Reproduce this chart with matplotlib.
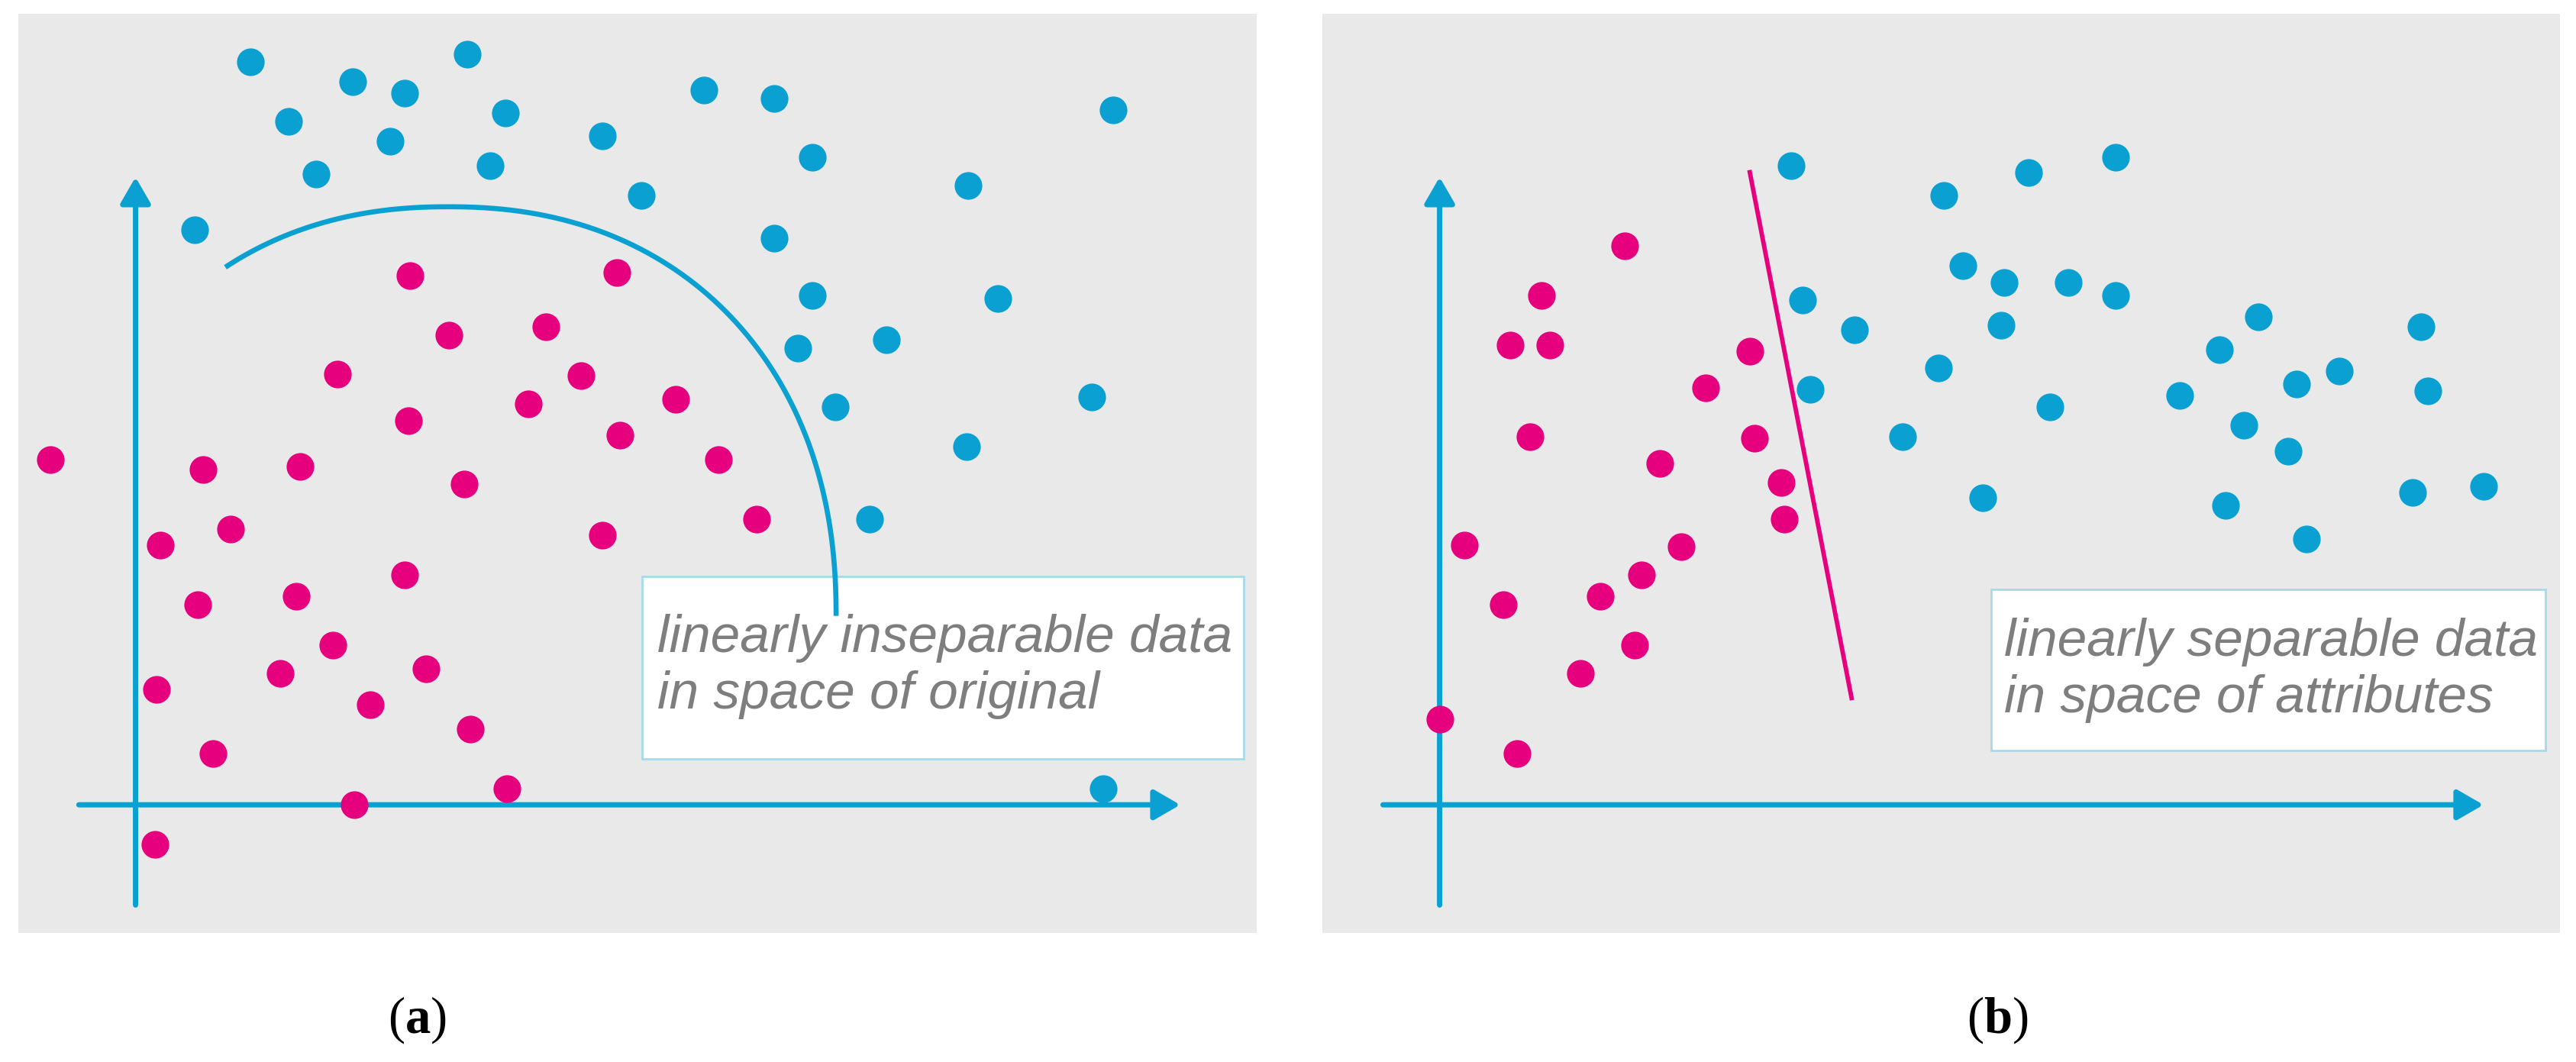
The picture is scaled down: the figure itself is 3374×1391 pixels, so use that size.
import matplotlib.pyplot as plt
import numpy as np
from matplotlib.patches import FancyArrowPatch, Rectangle

# ---- data (units: arbitrary, origin = where the drawn axes cross) ----
# panel (a): linearly inseparable
a_cyan_x = [7.0, 9.3, 13.2, 16.4, 15.5, 11.0, 20.2, 22.5, 21.6, 3.6, 28.4, 30.8, 34.6, 38.9,
            41.2, 38.9, 41.2, 40.3, 45.7, 42.6, 50.7, 52.5, 50.6, 44.7, 58.2, 59.5, 58.9]
a_cyan_y = [45.2, 41.6, 44.0, 43.3, 40.4, 38.4, 45.7, 42.1, 38.9, 35.0, 40.7, 37.1, 43.5, 43.0,
            39.4, 34.5, 31.0, 27.8, 28.3, 24.2, 37.7, 30.8, 21.8, 17.4, 24.8, 42.3, 1.0]
a_pink_x = [-5.2, 4.1, 10.0, 1.5, 5.8, 3.8, 9.8, 16.4, 1.3, 8.8, 12.0, 17.7, 14.3, 20.4, 4.7, 13.3,
            22.6, 1.2, 16.7, 29.3, 19.1, 25.0, 12.3, 27.1, 16.6, 23.9, 32.9, 29.5, 35.5, 20.0, 28.4, 37.8]
a_pink_y = [21.0, 20.4, 20.6, 15.8, 16.8, 12.2, 12.7, 14.0, 7.0, 8.0, 9.7, 8.3, 6.1, 4.6, 3.1, 0.0,
            1.0, -2.4, 32.2, 32.4, 28.6, 29.1, 26.2, 26.1, 23.4, 24.4, 24.7, 22.5, 21.0, 19.5, 16.4, 17.4]

# panel (b): linearly separable
b_cyan_x = [21.4, 30.7, 35.9, 41.2, 22.1, 25.3, 22.6, 31.9, 34.4, 38.3, 41.2, 34.2, 30.4, 37.2, 28.2,
            33.1, 45.1, 47.5, 49.9, 52.2, 54.8, 49.0, 51.7, 47.9, 52.8, 59.8, 60.2, 59.3, 63.6]
b_cyan_y = [38.9, 37.1, 38.5, 39.4, 30.7, 28.9, 25.3, 32.8, 31.8, 31.8, 31.0, 29.2, 26.6, 24.2, 22.4,
            18.7, 24.9, 27.7, 29.7, 25.6, 26.4, 23.1, 21.5, 18.2, 16.2, 29.1, 25.2, 19.0, 19.4]
b_pink_x = [11.3, 6.2, 4.3, 6.7, 5.5, 18.9, 16.2, 19.2, 13.4, 20.8, 21.0, 1.5, 14.7, 12.3, 9.8,
            3.9, 11.9, 8.6, 0.0, 4.7]
b_pink_y = [34.0, 31.0, 28.0, 28.0, 22.4, 27.6, 25.4, 22.3, 20.8, 19.6, 17.4, 15.8, 15.7, 14.0, 12.7,
            12.2, 9.7, 8.0, 5.2, 3.1]

# boundaries
a_curve_center = (19.05, 11.5)
a_curve_radii = (23.6, 24.9)
b_line_x = [18.9, 25.1]
b_line_y = [38.5, 6.5]

texts = ["linearly inseparable data\nin space of original",
         "linearly separable data\nin space of attributes"]
labels = ["a", "b"]

CYAN = '#0AA0D2'
PINK = '#E6007E'
BG = '#E9E9E9'

plt.rcParams['mathtext.fontset'] = 'custom'
plt.rcParams['mathtext.rm'] = 'Liberation Serif'
plt.rcParams['mathtext.bf'] = 'Liberation Serif:bold'

fig = plt.figure(figsize=(33.74, 13.91), dpi=100)
ax_a = fig.add_axes([0.00702, 0.1215, 0.4808, 0.8656])
ax_b = fig.add_axes([0.5133, 0.1215, 0.4804, 0.8656])


def panel(ax, cyan_x, cyan_y, pink_x, pink_y, box, text_xy, text):
    ax.set_facecolor(BG)
    ax.set_xlim(-7.15, 68.25)
    ax.set_ylim(-7.8, 48.15)
    ax.set_xticks([])
    ax.set_yticks([])
    for s in ax.spines.values():
        s.set_visible(False)

    style = '-|>,head_length=0.95,head_width=0.55'
    ax.add_patch(FancyArrowPatch((-3.45, 0), (63.6, 0), arrowstyle=style, mutation_scale=22,
                                 lw=5, color=CYAN, shrinkA=0, shrinkB=0, zorder=2))
    ax.add_patch(FancyArrowPatch((0, -6.1), (0, 38.2), arrowstyle=style, mutation_scale=22,
                                 lw=5, color=CYAN, shrinkA=0, shrinkB=0, zorder=2))

    ax.scatter(cyan_x, cyan_y, s=680, color=CYAN, linewidths=0, zorder=3)
    ax.scatter(pink_x, pink_y, s=680, color=PINK, linewidths=0, zorder=3)

    x0, y0, x1, y1 = box
    ax.add_patch(Rectangle((x0, y0), x1 - x0, y1 - y0, facecolor='white',
                           edgecolor='#A6DAEA', lw=2, zorder=4))
    ax.text(text_xy[0], text_xy[1], text, fontsize=50, style='italic', color='#7E7E7E',
            family='Liberation Sans', va='center', ha='left', linespacing=1.2, zorder=6)


panel(ax_a, a_cyan_x, a_cyan_y, a_pink_x, a_pink_y, (30.85, 2.8, 67.45, 13.9), (31.75, 8.4), texts[0])
panel(ax_b, b_cyan_x, b_cyan_y, b_pink_x, b_pink_y, (33.6, 3.3, 67.4, 13.1), (34.4, 8.2), texts[1])

# curved boundary in (a): squarish elliptical arc
n = 2.2
t = np.linspace(np.radians(123), 0, 200)
cx, cy = a_curve_center
ra, rb = a_curve_radii
xs = cx + ra * np.sign(np.cos(t)) * np.abs(np.cos(t)) ** (2 / n)
ys = cy + rb * np.abs(np.sin(t)) ** (2 / n)
ax_a.plot(xs, ys, color=CYAN, lw=4.8, solid_capstyle='butt', zorder=5)

# straight boundary in (b)
ax_b.plot(b_line_x, b_line_y, color=PINK, lw=4.2, zorder=5)

for xpos, lab in zip([0.162, 0.7755], labels):
    fig.text(xpos, 0.0395, '(' + r'$\mathbf{' + lab + '}$' + ')', fontsize=48,
             family='Liberation Serif', ha='center', va='center')

fig.savefig('out.png', dpi=100, facecolor='white')
